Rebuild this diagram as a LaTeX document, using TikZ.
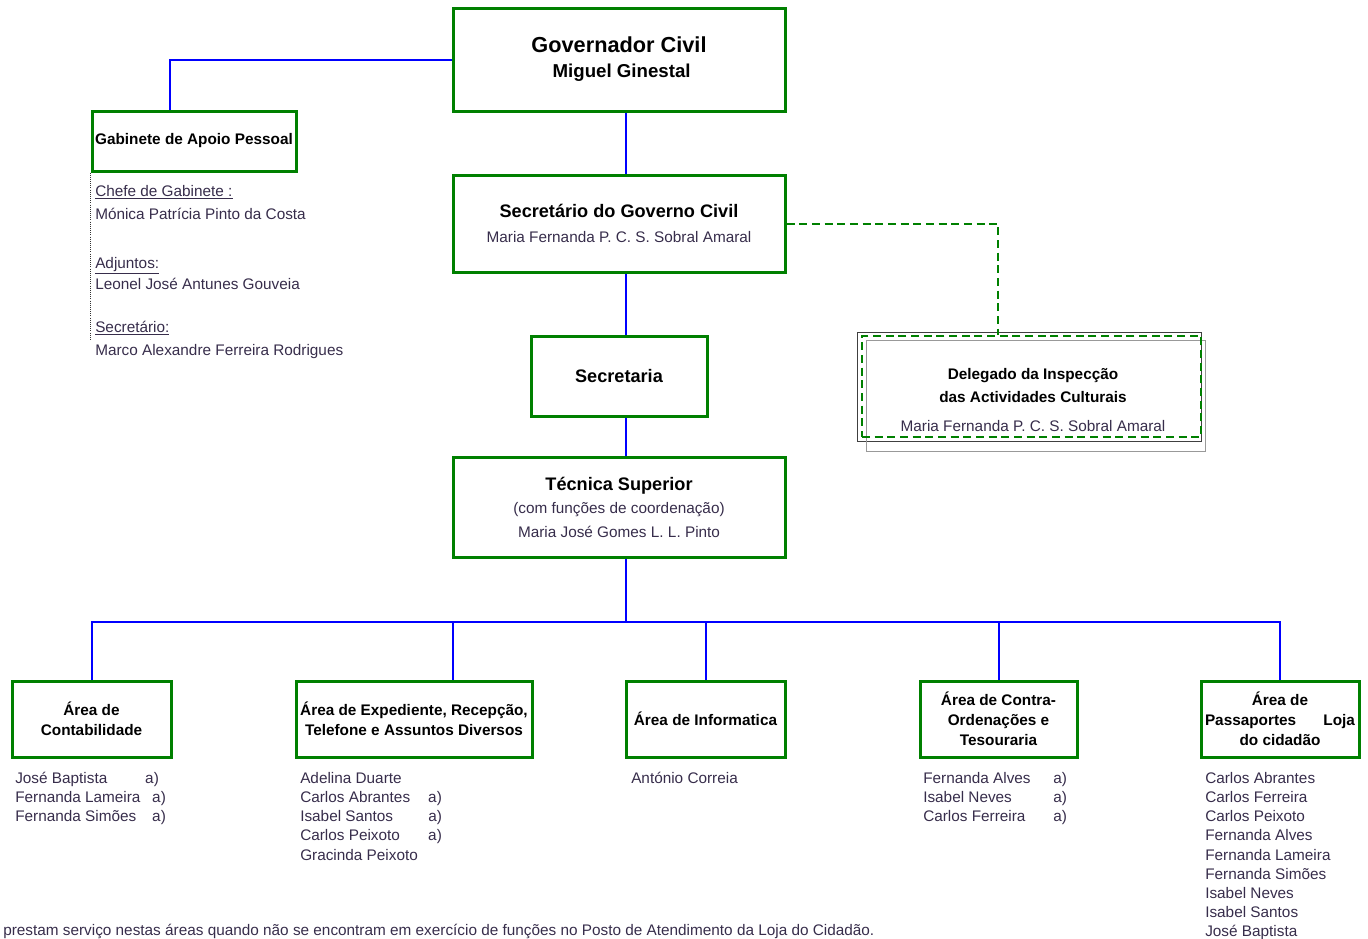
\documentclass[tikz,border=0pt]{standalone}
\usepackage{fontspec}
\setmainfont{Liberation Sans}
\usepackage{tikz}
\usetikzlibrary{calc}
\definecolor{verdecx}{RGB}{0,128,0}
\definecolor{azullig}{RGB}{0,0,255}
\definecolor{corome}{RGB}{55,45,75}
\newcommand{\fgov}{\fontsize{16.3}{19}\selectfont\bfseries}
\newcommand{\fgovb}{\fontsize{14}{17}\selectfont\bfseries}
\newcommand{\ftit}{\fontsize{13.6}{16}\selectfont\bfseries}
\newcommand{\fcx}{\fontsize{11.5}{15}\selectfont\bfseries}
\newcommand{\fnome}{\fontsize{11.5}{14.6}\selectfont\mdseries}
\newcommand{\flista}{\fontsize{11.5}{14.4}\selectfont\mdseries}
\tikzset{
  caixa/.style={draw=verdecx, line width=2.25pt, align=center, inner sep=1pt},
  liga/.style={draw=azullig, line width=1.5pt},
  nomes/.style={anchor=north west, align=left, inner sep=0pt, text=corome, font=\fnome},
}

\begin{document}
\begin{tikzpicture}[x=0.75pt,y=-0.75pt]
\useasboundingbox (0,0) rectangle (1368,939);

% topo
\node[caixa, minimum width=249pt, minimum height=77.25pt, font=\fnome] (gov) at (619,59.5)
  {{\fgov Governador Civil}\\[4.2pt] {\fgovb\ Miguel Ginestal}};
\node[caixa, minimum width=153pt, minimum height=45pt, font=\fcx] (gab) at (194,141)
  {Gabinete de Apoio Pessoal};
\node[caixa, minimum width=249pt, minimum height=72.75pt, font=\fnome] (sec) at (619,223.5)
  {{\ftit Secretário do Governo Civil}\\[4.2pt] {\color{corome} Maria Fernanda P. C. S. Sobral Amaral}};
\node[caixa, minimum width=132pt, minimum height=60pt, font=\ftit] (secret) at (619,376)
  {Secretaria};
\node[caixa, minimum width=249pt, minimum height=75pt, font=\fnome] (tec) at (619,507)
  {{\ftit Técnica Superior}\\[3pt] {\color{corome} (com funções de coordenação)}\\[3pt]
   {\color{corome} Maria José Gomes L. L. Pinto}};

% delegado
\draw[black!75, line width=0.75pt] (857,332) rectangle (1201,441);
\draw[black!40, line width=0.75pt] (866,340) rectangle (1205,451);
\node[draw=verdecx, line width=1.5pt, dash pattern=on 6pt off 3.5pt, minimum width=254.25pt,
  minimum height=75.75pt] (deleg) at (1031.5,386.5) {};
\node[align=center, inner sep=0pt, font=\fcx] (delegtx) at (1033,400)
  {Delegado da Inspecção\\[2.3pt] das Actividades Culturais\\[6.8pt]
   {\fnome\color{corome} Maria Fernanda P. C. S. Sobral Amaral}};

% gabinete
\draw[densely dotted, black!80, line width=0.6pt] (gab.south west) -- ++(0,168);
\node[nomes] (chefe) at (95,185) {\underline{Chefe de Gabinete :}\\[2.6pt] Mónica Patrícia Pinto da Costa};
\node[nomes] (adj) at (95,257) {\underline{Adjuntos:}\\[1pt] Leonel José Antunes Gouveia};
\node[nomes] (secr) at (95,321) {\underline{Secretário:}\\[2.6pt] Marco Alexandre Ferreira Rodrigues};

% areas
\node[caixa, minimum width=119.25pt, minimum height=57pt, font=\fcx] (cont) at (91.5,719)
  {Área de\\ Contabilidade};
\node[caixa, minimum width=177pt, minimum height=57pt, font=\fcx] (exped) at (414,719)
  {Área de Expediente, Recepção,\\ Telefone e Assuntos Diversos};
\node[caixa, minimum width=119.25pt, minimum height=57pt, font=\fcx] (infor) at (705.5,719)
  {Área de Informatica};
\node[caixa, minimum width=117.75pt, minimum height=57pt, font=\fcx] (contra) at (998.5,719)
  {Área de Contra-\\ Ordenações e\\ Tesouraria};
\node[caixa, minimum width=118.5pt, minimum height=57pt, font=\fcx] (passap) at (1280,719)
  {Área de\\ \makebox[112.5pt]{Passaportes\hfill Loja}\\ do cidadão};

% ligacoes
\coordinate (tronco) at (626,0);
\coordinate (gabx) at (170,0);
\coordinate (delx) at (998,0);
\coordinate (expx) at (453,0);
\coordinate (barra) at (0,622);
\draw[liga] (gov.west) -| (gabx |- gab.north);
\draw[liga] (gov.south -| tronco) -- (sec.north -| tronco);
\draw[liga] (sec.south -| tronco) -- (secret.north -| tronco);
\draw[liga] (secret.south -| tronco) -- (tec.north -| tronco);
\draw[liga] (tec.south -| tronco) -- (tronco |- barra);
\draw[liga] (cont.north) -- (cont.north |- barra) -- (passap.north |- barra) -- (passap.north);
\draw[liga] (expx |- barra) -- (expx |- exped.north);
\draw[liga] (infor.north |- barra) -- (infor.north);
\draw[liga] (contra.north |- barra) -- (contra.north);
\draw[verdecx, line width=1.5pt, dash pattern=on 6pt off 3.5pt] (sec.east) -| (delx |- deleg.north);

% nomes
\node[nomes, font=\flista] (ncont) at (15,772) {\makebox[97.5pt][l]{José Baptista}a)\\
  \makebox[102.75pt][l]{Fernanda Lameira}a)\\ \makebox[102.75pt][l]{Fernanda Simões}a)};
\node[nomes, font=\flista] (nexped) at (300,772) {Adelina Duarte\\ \makebox[96pt][l]{Carlos Abrantes}a)\\
  \makebox[96pt][l]{Isabel Santos}a)\\ \makebox[96pt][l]{Carlos Peixoto}a)\\ Gracinda Peixoto};
\node[nomes, font=\flista] (ninfor) at (631,772) {António Correia};
\node[nomes, font=\flista] (ncontra) at (923,772) {\makebox[97.5pt][l]{Fernanda Alves}a)\\
  \makebox[97.5pt][l]{Isabel Neves}a)\\ \makebox[97.5pt][l]{Carlos Ferreira}a)};
\node[nomes, font=\flista] (npassap) at (1205,772) {Carlos Abrantes\\ Carlos Ferreira\\ Carlos Peixoto\\
  Fernanda Alves\\ Fernanda Lameira\\ Fernanda Simões\\ Isabel Neves\\ Isabel Santos\\ José Baptista};

\node[anchor=west, inner sep=0pt, text=corome, font=\fnome] (nota) at (3,931)
  {prestam serviço nestas áreas quando não se encontram em exercício de funções no Posto de Atendimento da Loja do Cidadão.};
\end{tikzpicture}
\end{document}
